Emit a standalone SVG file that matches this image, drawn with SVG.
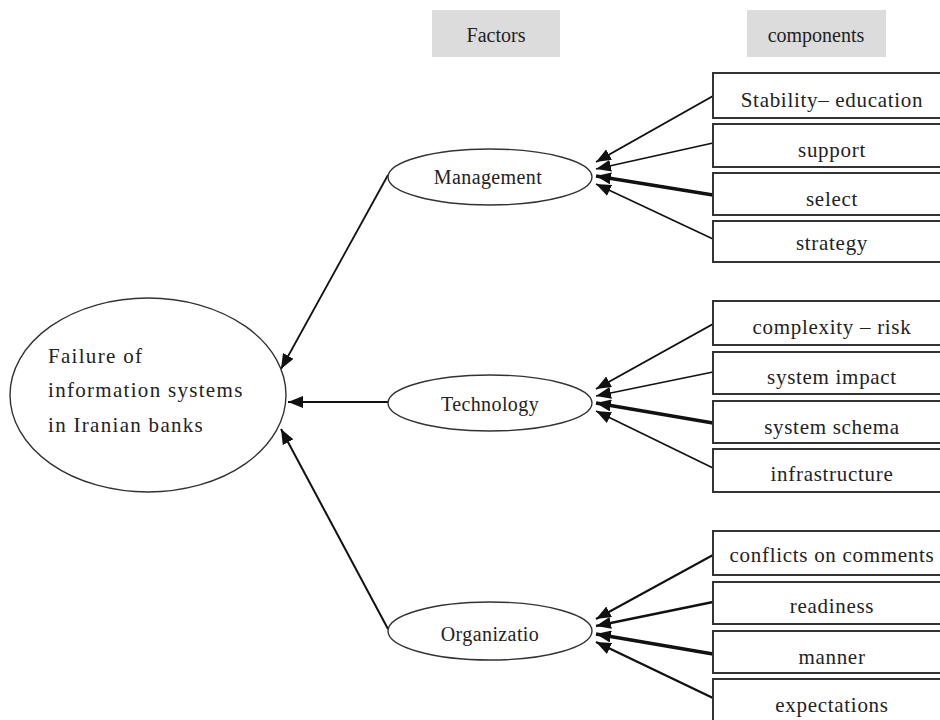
<svg xmlns="http://www.w3.org/2000/svg" width="940" height="720" viewBox="0 0 940 720">
<defs>
<marker id="ah" markerUnits="userSpaceOnUse" markerWidth="15" markerHeight="12" refX="15" refY="6" orient="auto">
<path d="M0,0 L15,6 L0,12 z" fill="#111"/>
</marker>
<style>
.hdr{fill:#dcdcdc;stroke:none;}
.ht{font-size:20px;text-anchor:middle;}
.box{fill:#fff;stroke:#333;stroke-width:2;}
.bt{font-size:21px;text-anchor:middle;letter-spacing:0.7px;}
.ell{fill:#fff;stroke:#333;stroke-width:1.4;}
.et{font-size:20px;text-anchor:middle;letter-spacing:0.4px;}
.bigt{font-size:21px;letter-spacing:1.3px;}
.c{stroke:#111;fill:none;marker-end:url(#ah);}
</style>
</defs>
<rect width="940" height="720" fill="#fff"/>
<g font-family="'Liberation Serif', 'DejaVu Serif', serif" fill="#222">

<g id="hdr-factors"><rect class="hdr" x="432" y="10" width="128" height="47"/><text class="ht" x="496" y="42">Factors</text></g>
<g id="hdr-components"><rect class="hdr" x="747" y="10" width="139" height="47"/><text class="ht" x="816" y="42">components</text></g>

<g id="connectors">
<line class="c" x1="388" y1="175" x2="281" y2="369" stroke-width="1.8"/>
<line class="c" x1="388" y1="402" x2="288" y2="402" stroke-width="1.8"/>
<line class="c" x1="388" y1="629" x2="281" y2="429" stroke-width="2"/>

<line class="c" x1="713" y1="96" x2="596" y2="162" stroke-width="2"/>
<line class="c" x1="713" y1="143" x2="596" y2="169" stroke-width="1.6"/>
<line class="c" x1="713" y1="195" x2="596" y2="176" stroke-width="3.5"/>
<line class="c" x1="713" y1="239" x2="596" y2="184" stroke-width="1.6"/>

<line class="c" x1="713" y1="324" x2="596" y2="389" stroke-width="2"/>
<line class="c" x1="713" y1="372" x2="596" y2="396" stroke-width="1.6"/>
<line class="c" x1="713" y1="423" x2="596" y2="403" stroke-width="3.5"/>
<line class="c" x1="713" y1="468" x2="596" y2="411" stroke-width="1.6"/>

<line class="c" x1="713" y1="555" x2="596" y2="619" stroke-width="2"/>
<line class="c" x1="713" y1="602" x2="596" y2="626" stroke-width="2.4"/>
<line class="c" x1="713" y1="654" x2="596" y2="634" stroke-width="3.5"/>
<line class="c" x1="713" y1="698" x2="596" y2="642" stroke-width="2.4"/>
</g>

<g id="failure"><ellipse class="ell" cx="148" cy="395" rx="138" ry="97"/>
<text class="bigt" x="48" y="363">Failure of</text>
<text class="bigt" x="48" y="397">information systems</text>
<text class="bigt" x="48" y="432">in Iranian banks</text></g>

<g id="management"><ellipse class="ell" cx="490" cy="177" rx="102" ry="28"/><text class="et" x="488" y="184">Management</text></g>
<g id="technology"><ellipse class="ell" cx="490" cy="403" rx="102" ry="28"/><text class="et" x="490" y="411">Technology</text></g>
<g id="organization"><ellipse class="ell" cx="490" cy="631" rx="102" ry="29"/><text class="et" x="490" y="641">Organizatio</text></g>

<g id="stability-education"><rect class="box" x="713" y="73" width="240" height="45"/><text class="bt" x="832" y="107">Stability– education</text></g>
<g id="support"><rect class="box" x="713" y="124" width="240" height="43"/><text class="bt" x="832" y="157">support</text></g>
<g id="select"><rect class="box" x="713" y="173" width="240" height="42"/><text class="bt" x="832" y="206">select</text></g>
<g id="strategy"><rect class="box" x="713" y="221" width="240" height="41"/><text class="bt" x="832" y="250">strategy</text></g>

<g id="complexity-risk"><rect class="box" x="713" y="301" width="240" height="44"/><text class="bt" x="832" y="334">complexity – risk</text></g>
<g id="system-impact"><rect class="box" x="713" y="352" width="240" height="42"/><text class="bt" x="832" y="384">system impact</text></g>
<g id="system-schema"><rect class="box" x="713" y="401" width="240" height="42"/><text class="bt" x="832" y="434">system schema</text></g>
<g id="infrastructure"><rect class="box" x="713" y="449" width="240" height="43"/><text class="bt" x="832" y="481">infrastructure</text></g>

<g id="conflicts-on-comments"><rect class="box" x="713" y="531" width="240" height="44"/><text class="bt" x="832" y="562">conflicts on comments</text></g>
<g id="readiness"><rect class="box" x="713" y="582" width="240" height="42"/><text class="bt" x="832" y="613">readiness</text></g>
<g id="manner"><rect class="box" x="713" y="631" width="240" height="42"/><text class="bt" x="832" y="664">manner</text></g>
<g id="expectations"><rect class="box" x="713" y="679" width="240" height="50"/><text class="bt" x="832" y="712">expectations</text></g>
</g>
</svg>
